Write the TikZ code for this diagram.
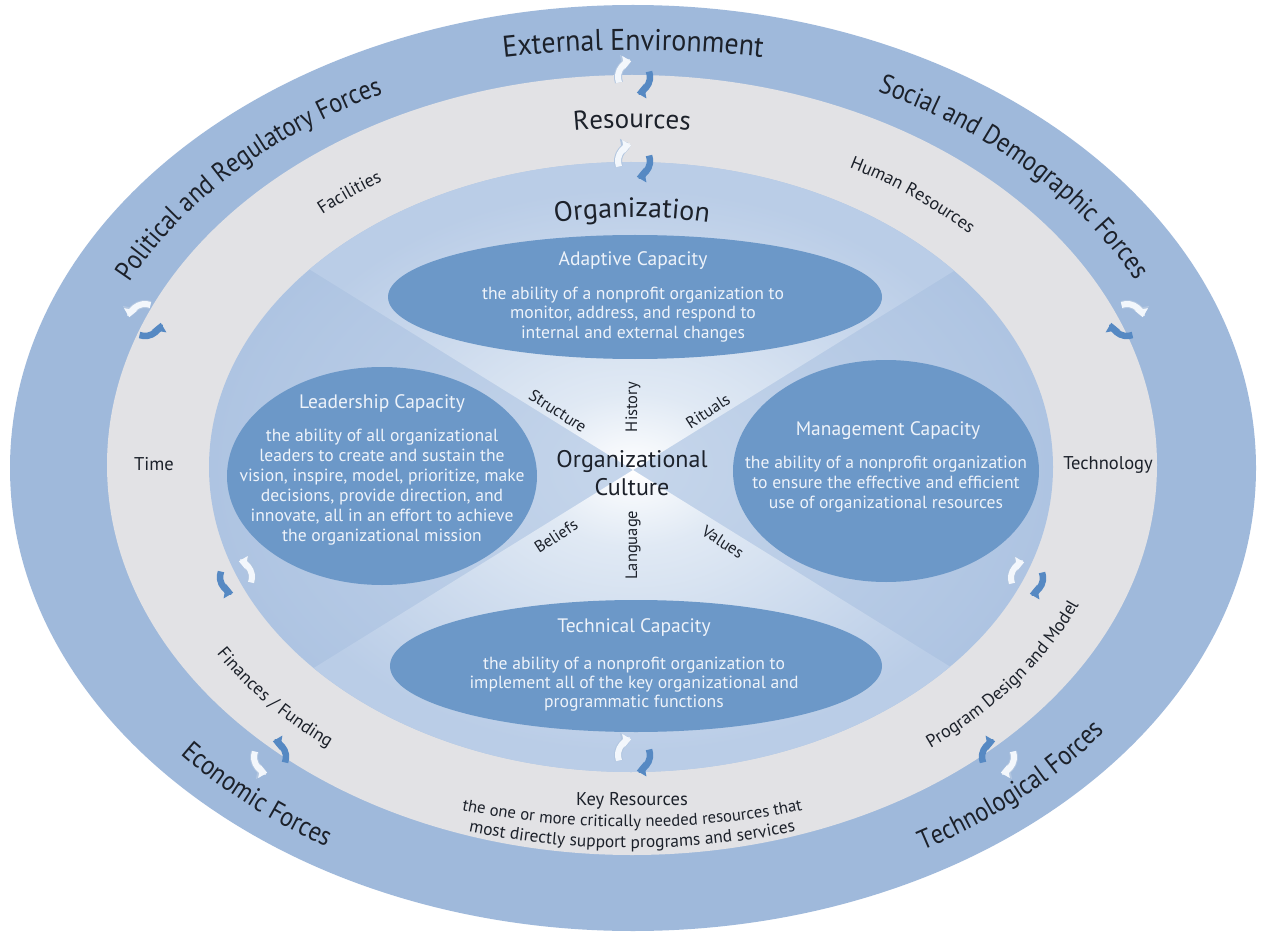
\documentclass[tikz,border=0pt]{standalone}
\usepackage{fontspec}
\setmainfont{PT Sans}
\newfontfamily\condfont[FakeStretch=0.88]{PT Sans}
\newfontfamily\topfont[FakeStretch=0.93]{PT Sans}
\usetikzlibrary{decorations.text,arrows.meta}
\definecolor{outerc}{RGB}{159,185,219}
\definecolor{grayc}{RGB}{226,226,229}
\definecolor{orgc}{RGB}{174,196,226}
\definecolor{orgmid}{RGB}{198,214,235}
\definecolor{orgtop}{RGB}{186,205,231}
\definecolor{glowmid}{RGB}{224,233,244}
\definecolor{capc}{RGB}{108,152,200}
\definecolor{captxt}{RGB}{238,243,250}
\definecolor{txt}{RGB}{28,33,42}
\definecolor{arrb}{RGB}{86,137,195}
\definecolor{arrw}{RGB}{243,247,252}
\definecolor{arrwo}{RGB}{178,198,224}
\pgfdeclareradialshading{orgshade}{\pgfpoint{0bp}{0bp}}{color(0bp)=(orgmid); color(25bp)=(orgc); color(50bp)=(orgc)}
\pgfdeclareradialshading{hourshade}{\pgfpoint{0bp}{0bp}}{color(0bp)=(white); color(6bp)=(glowmid); color(22bp)=(orgtop); color(50bp)=(orgtop)}
\newcommand{\fntOuter}{\condfont\fontsize{27.5}{27.5}\selectfont\color{txt}}
\newcommand{\fntTop}{\topfont\fontsize{30}{30}\selectfont\color{txt}}
\newcommand{\fntMid}{\fontsize{27}{27}\selectfont\color{txt}}
\newcommand{\fntOrg}{\fontsize{28}{28}\selectfont\color{txt}}
\newcommand{\fntSmall}{\fontsize{18}{18}\selectfont\color{txt}}
\newcommand{\fntKeyA}{\fontsize{16.7}{16.7}\selectfont\color{txt}}
\newcommand{\fntKeyB}{\fontsize{17.4}{17.4}\selectfont\color{txt}}
\newcommand{\curvedlabel}[7]{%
  \path[decorate, decoration={text along path, text align=center, text={#7}}]
    ([shift={(#1,#2)}]#5:#3 and #4) arc[start angle=#5, end angle=#6, x radius=#3, y radius=#4];}
\begin{document}
\begin{tikzpicture}[x=1pt,y=1pt,
  ctitle/.style={text=captxt, font=\fontsize{19.5}{22}\selectfont, anchor=base, inner sep=0},
  cbody/.style={text=captxt, font=\fontsize{17.6}{20}\selectfont, anchor=base, inner sep=0},
  dlabel/.style={text=txt, font=\fontsize{18.5}{21}\selectfont, anchor=base, inner sep=0},
  cword/.style={text=txt, font=\fontsize{16.5}{19}\selectfont, inner sep=0},
  culture/.style={text=txt, font=\fontsize{24}{27}\selectfont, anchor=base, inner sep=0},
  wout/.style={line width=8pt, arrwo, -{Triangle[width=16pt,length=10pt]}},
  warr/.style={line width=6pt, arrw, -{Triangle[width=13pt,length=8pt]}},
  barr/.style={line width=6.5pt, arrb, -{Triangle[width=14pt,length=8.5pt]}},
  pics/recyc/.style={code={
    \draw[wout] (200:16) arc[start angle=200, end angle=100, radius=16];
    \draw[warr] (200:16) arc[start angle=200, end angle=100, radius=16];
    \draw[barr] (20:16) arc[start angle=20, end angle=-80, radius=16];
  }}]
\useasboundingbox (0,0) rectangle (1262,-936);
\fill[white] (0,0) rectangle (1262,-936);
% rings
\fill[outerc] (633,-468) ellipse [x radius=623, y radius=463];
\fill[grayc] (632,-465) ellipse [x radius=525, y radius=390];
\shade[shading=orgshade] (631,-467) ellipse [x radius=422, y radius=305];
\begin{scope}
  \clip (631,-467) ellipse [x radius=422, y radius=305];
  \clip (633,-470) -- (38,-101) -- (1228,-101) -- cycle
        (633,-470) -- (1228,-839) -- (38,-839) -- cycle;
  \shade[shading=hourshade] (633,-470) ellipse [x radius=440, y radius=320];
\end{scope}
% capacity ellipses
\fill[capc] (635,-297) ellipse [x radius=247, y radius=62];
\fill[capc] (382,-476) ellipse [x radius=155, y radius=109];
\fill[capc] (886,-471) ellipse [x radius=153, y radius=111];
\fill[capc] (636,-666) ellipse [x radius=246, y radius=66];
% outer band texts
\curvedlabel{633}{-468}{700}{418}{105}{75}{|\fntTop|External Environment}
\curvedlabel{633}{-468}{562}{418}{168}{105}{|\fntOuter|Political and Regulatory Forces}
\curvedlabel{633}{-468}{562}{418}{75.5}{12.5}{|\fntOuter|Social and Demographic Forces}
\curvedlabel{633}{-468}{594}{442}{210}{248}{|\fntOuter|Economic Forces}
\curvedlabel{633}{-468}{590}{439}{290.5}{333.5}{|\fntOuter|Technological Forces}
% resources band texts
\curvedlabel{632}{-468}{464}{340}{102}{78}{|\fntMid|Resources}
\curvedlabel{632}{-468}{464}{340}{140}{115}{|\fntSmall|Facilities}
\curvedlabel{632}{-468}{464}{340}{72}{32}{|\fntSmall|Human Resources}
\curvedlabel{632}{-468}{486}{358}{200}{241}{|\fntSmall|Finances / Funding}
\curvedlabel{632}{-468}{484}{356}{297}{351}{|\fntSmall|Program Design and Model}
\node[dlabel] (time) at (154,-470) {Time};
\node[dlabel] (tech) at (1108,-469) {Technology};
\node[dlabel] (keyres) at (632,-805) {Key Resources};
\curvedlabel{632}{-468}{560}{359}{240}{300}{|\fntKeyA|the one or more critically needed resources that}
\curvedlabel{632}{-468}{560}{380}{240}{300}{|\fntKeyB|most directly support programs and services}
% organization
\curvedlabel{632}{-468}{360}{251}{110}{70}{|\fntOrg|Organization}
% adaptive
\node[ctitle] (adt) at (633,-266) {Adaptive Capacity};
\node[cbody] (ad1) at (633,-300) {the ability of a nonprofit organization to};
\node[cbody] (ad2) at (633,-319) {monitor, address, and respond to};
\node[cbody] (ad3) at (633,-338) {internal and external changes};
% leadership
\node[ctitle] (lct) at (382,-408) {Leadership Capacity};
\node[cbody] (lc1) at (382,-441) {the ability of all organizational};
\node[cbody] (lc2) at (382,-461) {leaders to create and sustain the};
\node[cbody] (lc3) at (382,-481) {vision, inspire, model, prioritize, make};
\node[cbody] (lc4) at (382,-501) {decisions, provide direction, and};
\node[cbody] (lc5) at (382,-521) {innovate, all in an effort to achieve};
\node[cbody] (lc6) at (382,-541) {the organizational mission};
% management
\node[ctitle] (mct) at (888,-435) {Management Capacity};
\node[cbody] (mc1) at (886,-468) {the ability of a nonprofit organization};
\node[cbody] (mc2) at (886,-488) {to ensure the effective and efficient};
\node[cbody] (mc3) at (886,-508) {use of organizational resources};
% technical
\node[ctitle] (tct) at (634,-632) {Technical Capacity};
\node[cbody] (tc1) at (634,-669) {the ability of a nonprofit organization to};
\node[cbody] (tc2) at (634,-688) {implement all of the key organizational and};
\node[cbody] (tc3) at (634,-707) {programmatic functions};
% culture
\node[culture] (oc1) at (632,-467) {Organizational};
\node[culture] (oc2) at (632,-495) {Culture};
\node[cword, rotate=-33] (w1) at (558,-411) {Structure};
\node[cword, rotate=90] (w2) at (633,-407) {History};
\node[cword, rotate=33] (w3) at (708,-411) {Rituals};
\node[cword, rotate=33] (w4) at (556,-536) {Beliefs};
\node[cword, rotate=90] (w5) at (633,-545) {Language};
\node[cword, rotate=-33] (w6) at (723,-542) {Values};
% exchange arrows
\pic (a1) at (634,-77) {recyc};
\pic (a2) at (634,-161) {recyc};
\pic[rotate=-90, yscale=-1] (a3) at (145,-320) {recyc};
\pic[rotate=-90] (a4) at (1127,-320) {recyc};
\pic[xscale=-1] (a5) at (236,-577) {recyc};
\pic[yscale=-1] (a6) at (270,-757) {recyc};
\pic (a7) at (634,-755) {recyc};
\pic (a8) at (1027,-578) {recyc};
\pic[rotate=180] (a9) at (998,-757) {recyc};
\end{tikzpicture}
\end{document}
